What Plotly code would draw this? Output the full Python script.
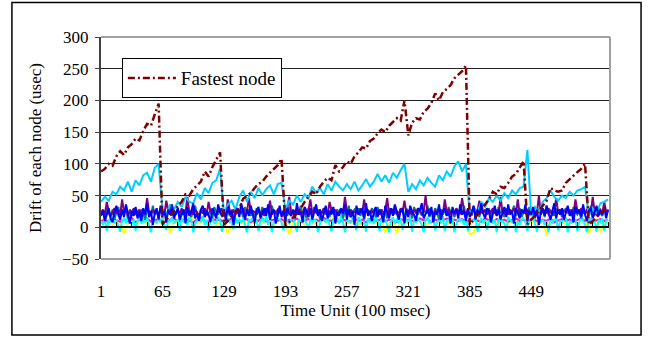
import plotly.graph_objects as go

# Trend series sampled every 4 time units, noise band every 2 time units
time_coarse = list(range(1, 530, 4))
time_fine = list(range(1, 531, 2))

tick_vals = [1, 65, 129, 193, 257, 321, 385, 449]
tick_text = ["1", "65", "129", "193", "257", "321", "385", "449"]

fastest_node = [
    88, 92, 100, 97, 112, 120, 114, 126, 131, 140, 137, 152, 163, 160, 178, 195,
    5, 12, 18, 26, 32, 40, 52, 50, 60, 66, 72, 88, 80, 95, 106, 118,
    4, 10, 18, 24, 30, 45, 50, 54, 62, 68, 72, 80, 86, 92, 98, 108,
    3, 8, 15, 22, 30, 40, 48, 56, 52, 64, 72, 78, 74, 98, 88, 95,
    104, 100, 112, 118, 126, 124, 136, 140, 148, 154, 150, 160, 166, 172, 168, 200,
    145, 165, 172, 170, 182, 187, 196, 211, 200, 213, 218, 224, 235, 240, 246, 255,
    4, 12, 20, 28, 35, 44, 56, 52, 64, 62, 70, 80, 84, 95, 104,
    5, 12, 18, 26, 34, 42, 62, 58, 56, 58, 70, 76, 82, 87, 92, 100,
    4, 10, 16, 22, 28, 32,
]

sky_node = [
    40, 48, 42, 56, 52, 64, 58, 72, 56, 74, 66, 82, 86, 72, 94, 100,
    28, 20, 36, 28, 40, 32, 48, 40, 38, 54, 44, 62, 54, 70, 74, 92,
    22, 36, 42, 28, 48, 58, 40, 56, 46, 62, 50, 60, 66, 52, 68, 70,
    28, 42, 36, 50, 40, 52, 46, 64, 54, 62, 52, 68, 58, 72, 64, 58,
    68, 60, 72, 58, 66, 76, 64, 72, 84, 72, 82, 70, 86, 78, 90, 100,
    56, 68, 60, 74, 66, 78, 70, 64, 82, 74, 88, 80, 96, 104, 88, 100,
    18, 32, 24, 40, 32, 46, 40, 50, 42, 54, 46, 58, 52, 62, 64,
    122, 18, 32, 24, 40, 46, 58, 48, 42, 50, 46, 56, 50, 58, 60, 64,
    18, 30, 22, 38, 40, 44,
]

yellow_node = [
    8, 6, 10, 4, 12, 8, -10, 6, 12, 4, 10, 14, 6, 8, 12, 10,
    4, 12, -9, 8, 6, 12, 8, 10, 14, 6, 8, 12, 6, 14, 4, 8,
    10, -10, 4, 8, 12, 6, 10, 8, 6, 12, 8, 10, 6, 4, 12, 10,
    8, -11, 12, 6, 10, 4, 14, 8, 6, 12, 10, 8, 14, 6, 10, 12,
    6, 8, 10, 4, 12, 8, 12, 6, 8, 14, -8, 6, 10, -10, 12, 8,
    12, 6, 10, 14, 8, 4, 12, 6, 10, 8, 12, 4, 10, 14, 8, 6,
    -11, -9, 14, 8, 6, 12, 10, 8, 4, 12, 6, 10, 8, 14, 12, 6,
    8, 10, 4, 12, -12, 8, 6, 10, 12, 4, 8, 14, 6, 10, 12, -10,
    8, 12, -8, 10, 6,
]

magenta_node = [
    10, 12, 8, 14, 11, 9, 13, 10, 15, 8, 12, 10, 14, 9, 11, 13,
    10, 8, 12, 14, 9, 11, 13, 10, 8, 12, 15, 10, 9, 13, 11, 12,
    8, 10, 14, 12, 9, 11, 13, 8, 12, 10, 14, 9, 11, 12, 10, 13,
    9, 12, 10, 14, 8, 11, 13, 10, 12, 9, 15, 11, 10, 13, 8, 12,
    11, 9, 14, 10, 12, 8, 13, 11, 10, 14, 9, 12, 10, 8, 13, 11,
    12, 10, 9, 14, 11, 13, 8, 12, 10, 11, 14, 9, 12, 10, 13, 8,
    11, 12, 10, 9, 14, 11, 8, 13, 10, 12, 9, 11, 14, 10, 12, 8,
    13, 11, 9, 12, 10, 14, 8, 11, 13, 10, 12, 9, 11, 14, 10, 12,
    9, 11, 13, 10, 12,
]

blue_node = [
    18, 26, 10, 22, 30, 14, 8, 24, 34, 20, 12, 28, 16, 36, 22, 6, 26, 18, 32, 14,
    24, 10, 30, 20, 38, 16, 26, 4, 22, 30, 12, 34, 18, 26, 8, 28, 20, 36, 14, 24,
    30, 12, 20, 28, 6, 32, 18, 24, 38, 14, 22, 10, 28, 34, 16, 26, 20, 8, 30, 22,
    14, 36, 24, 18, 28, 10, 32, 20, 26, 4, 24, 30, 16, 38, 22, 12, 28, 18, 34, 20,
    8, 26, 32, 14, 22, 30, 18, 36, 12, 24, 28, 6, 20, 34, 16, 26, 10, 30, 22, 18,
    28, 14, 38, 20, 24, 8, 32, 26, 16, 30, 12, 22, 36, 18, 28, 10, 24, 34, 14, 26,
    20, 32, 6, 24, 18, 30, 22, 36, 12, 28, 16, 26, 4, 34, 20, 24, 30, 14, 38, 18,
    26, 10, 22, 32, 16, 28, 20, 8, 34, 24, 14, 30, 18, 36, 22, 12, 26, 30, 6, 28,
    16, 34, 24, 20, 10, 30, 26, 38, 14, 22, 28, 18, 32, 8, 24, 20, 36, 12, 26, 30,
    18, 24, 6, 32, 22, 28, 14, 36, 20, 26, 10, 30, 16, 24, 34, 12, 28, 20, 38, 22,
    14, 30, 26, 8, 24, 34, 18, 28, 12, 22, 32, 16, 36, 20, 26, 6, 30, 24, 14, 28,
    22, 36, 10, 26, 20, 32, 16, 28, 4, 24, 30, 18, 34, 22, 12, 26, 38, 14, 28, 20,
    30, 12, 24, 34, 18, 26, 8, 32, 22, 28, 16, 36, 20, 10, 26, 30, 14, 24, 34, 18,
    26, 20, 32, 14, 28,
]

purple_node = [
    22, 28, 20, 40, 26, 18, 24, 30, 22, 26, 20, 44, 24, 28, 18, 26, 22, 30, 20, 24,
    28, 20, 26, 22, 46, 24, 20, 28, 22, 26, 18, 30, 24, 20, 42, 26, 22, 28, 20, 24,
    26, 22, 30, 20, 24, 48, 22, 26, 20, 28, 24, 18, 26, 22, 30, 20, 40, 24, 28, 22,
    20, 26, 24, 30, 22, 18, 44, 26, 22, 28, 20, 24, 26, 22, 30, 18, 24, 46, 22, 26,
    24, 20, 28, 22, 26, 18, 30, 24, 42, 20, 26, 22, 28, 24, 20, 26, 22, 30, 48, 24,
    22, 26, 20, 28, 24, 22, 30, 20, 26, 44, 22, 28, 24, 20, 26, 22, 30, 24, 20, 40,
    26, 22, 28, 20, 24, 30, 22, 48, 26, 20, 28, 22, 24, 26, 20, 30, 22, 44, 24, 28,
    20, 26, 22, 30, 24, 20, 28, 22, 26, 46, 20, 24, 28, 22, 26, 20, 30, 24, 42, 22,
    26, 24, 20, 28, 22, 30, 24, 20, 26, 50, 22, 28, 24, 20, 26, 22, 30, 24, 20, 44,
    24, 28, 22, 26, 20, 30, 24, 22, 46, 26, 20, 28, 24, 22, 30, 20, 26, 42, 24, 22,
    28, 20, 26, 24, 30, 22, 26, 20, 48, 24, 22, 28, 20, 26, 24, 30, 22, 44, 20, 26,
    24, 22, 28, 20, 26, 30, 22, 24, 50, 20, 28, 26, 22, 30, 24, 20, 26, 46, 22, 28,
    20, 26, 24, 30, 22, 28, 20, 44, 26, 22, 30, 24, 20, 28, 26, 22, 48, 24, 20, 26,
    28, 22, 40, 24, 26,
]

teal_node = [
    20, 26, 14, 30, 22, 16, 28, 12, 24, 32, 18, 26, 20, 34, 14, 28, 22, 18, 30, 24,
    16, 28, 22, 12, 30, 24, 18, 34, 20, 26, 14, 30, 22, 28, 16, 24, 32, 18, 26, 20,
    30, 14, 24, 28, 18, 32, 22, 16, 26, 34, 20, 12, 28, 24, 30, 18, 22, 26, 14, 32,
    24, 20, 30, 16, 26, 22, 34, 18, 28, 12, 24, 30, 20, 26, 16, 32, 22, 28, 18, 24,
    14, 30, 26, 20, 32, 18, 24, 28, 12, 34, 22, 26, 16, 30, 20, 24, 28, 18, 32, 22,
    26, 16, 28, 22, 34, 20, 24, 14, 30, 26, 18, 32, 22, 28, 12, 24, 30, 20, 26, 16,
    32, 24, 18, 28, 22, 30, 14, 26, 20, 34, 16, 24, 28, 22, 30, 18, 26, 12, 28, 24,
    20, 30, 26, 16, 32, 22, 28, 18, 24, 14, 30, 26, 20, 34, 22, 16, 28, 24, 18, 30,
    22, 26, 14, 32, 24, 20, 30, 18, 28, 22, 34, 16, 26, 20, 30, 24, 12, 28, 22, 26,
    18, 32, 24, 28, 16, 26, 22, 30, 20, 34, 14, 24, 28, 18, 32, 22, 26, 16, 30, 24,
    26, 20, 30, 14, 28, 24, 18, 32, 22, 26, 16, 30, 20, 28, 24, 34, 18, 22, 30, 16,
    24, 28, 20, 32, 18, 26, 14, 30, 24, 22, 28, 16, 34, 20, 26, 24, 18, 30, 22, 28,
    16, 26, 30, 22, 28, 18, 32, 24, 20, 26, 14, 30, 22, 28, 18, 34, 24, 20, 26, 30,
    22, 18, 28, 24, 26,
]

cyan_node = [
    10, 4, 14, -6, 12, 8, 16, 6, 12, 2, -7, 10, 14, 6, 18, 8, 4, 12, -5, 10,
    14, 6, 12, 8, 16, 4, -8, 12, 10, 6, 14, 8, 18, 2, -4, 12, 8, 16, 6, 10,
    12, -6, 14, 8, 10, 4, 16, 12, -8, 6, 10, 14, 8, 18, 4, 12, -5, 10, 14, 6,
    8, 16, 10, -7, 12, 6, 14, 8, 10, -3, 16, 6, 12, 8, 14, 4, -8, 12, 10, 16,
    6, 12, -6, 10, 14, 8, 18, 4, 12, -8, 10, 6, 14, 12, 8, -5, 16, 10, 6, 12,
    14, 4, -7, 12, 8, 16, 10, 6, -4, 14, 8, 12, 10, -8, 6, 16, 12, 8, 14, 4,
    -6, 12, 10, 14, 6, 18, 8, -8, 12, 10, 6, 14, 8, -5, 16, 12, 4, 10, -7, 14,
    8, 12, 6, 16, 10, -6, 14, 8, 12, 4, -8, 10, 16, 6, 12, 8, 14, -4, 10, 12,
    6, 16, -7, 12, 8, 14, 10, 4, -8, 12, 16, 6, 10, 14, -5, 8, 12, 6, 18, -6,
    10, 12, 8, 14, -8, 6, 16, 10, 12, 4, 14, -6, 8, 12, 10, 16, -7, 6, 14, 8,
    12, -4, 10, 16, 6, 12, -8, 14, 8, 10, 6, -6, 16, 12, 8, 14, -8, 10, 4, 12,
    14, 8, -6, 12, 10, 16, 6, -7, 14, 8, 12, 4, 10, -8, 16, 6, 12, 14, -5, 10,
    8, 12, 16, -8, 10, 6, 14, 12, -6, 8, 16, 10, 4, -8, 12, 14, 6, 10, -7, 12,
    8, 14, -6, 10, 12,
]

FONT = "Liberation Serif"

fig = go.Figure()

background_series = [
    (yellow_node, time_coarse, "#FFFF00"),
    (magenta_node, time_coarse, "#FF00FF"),
    (cyan_node, time_fine, "#00FFFF"),
    (teal_node, time_fine, "#008080"),
    (purple_node, time_fine, "#800080"),
    (sky_node, time_coarse, "#00CCFF"),
    (blue_node, time_fine, "#0000FF"),
]
for vals, xs, col in background_series:
    fig.add_trace(go.Scatter(
        x=xs[:len(vals)], y=vals, mode="lines",
        line=dict(color=col, width=2),
        showlegend=False, hoverinfo="skip",
    ))

fig.add_trace(go.Scatter(
    x=time_coarse[:len(fastest_node)], y=fastest_node, mode="lines", name="Fastest node",
    line=dict(color="#800000", width=2.5, dash="7px,3px,2px,3px"),
    xaxis="x2", showlegend=True,
))

x_range = [1, 531]

fig.update_layout(
    width=654, height=339,
    margin=dict(l=101, r=44, t=37, b=80),
    paper_bgcolor="white", plot_bgcolor="white",
    font=dict(family=FONT, size=17, color="black"),
    xaxis=dict(
        range=x_range, tickmode="array", tickvals=tick_vals, ticktext=tick_text,
        showgrid=False, zeroline=False, showline=False, ticks="",
        ticklabelstandoff=20,
        title=dict(text="Time Unit (100 msec)", standoff=4, font=dict(size=17)),
        tickfont=dict(size=17),
    ),
    xaxis2=dict(
        range=x_range, overlaying="x", anchor="free", position=50 / 350,
        side="bottom", showline=True, linecolor="black", linewidth=1.5,
        ticks="inside", ticklen=5, tickcolor="black", tickwidth=1,
        tick0=1, dtick=16, showticklabels=False, showgrid=False, zeroline=False,
    ),
    yaxis=dict(
        range=[-50, 300], tick0=0, dtick=50,
        showgrid=True, gridcolor="#202020", gridwidth=1,
        zeroline=False, showline=True, linecolor="#404040", linewidth=2,
        ticks="outside", ticklen=4, tickcolor="#404040",
        ticklabelstandoff=3,
        tickfont=dict(size=17),
        title=dict(text="Drift of each node (usec)", standoff=16, font=dict(size=17)),
    ),
    legend=dict(
        x=0.041, y=0.905, xanchor="left", yanchor="top",
        bgcolor="white", bordercolor="black", borderwidth=1,
        font=dict(family=FONT, size=19), itemwidth=48,
    ),
    shapes=[
        dict(type="line", xref="paper", yref="paper", x0=0, x1=1, y0=1, y1=1,
             line=dict(color="#A0A0A0", width=2)),
        dict(type="line", xref="paper", yref="paper", x0=1, x1=1, y0=0, y1=1,
             line=dict(color="#A0A0A0", width=2)),
        dict(type="line", xref="paper", yref="paper", x0=0, x1=1, y0=0, y1=0,
             line=dict(color="#A0A0A0", width=2)),
        dict(type="rect", xref="paper", yref="paper",
             x0=-0.175, x1=1.061, y0=-0.342, y1=1.155,
             line=dict(color="black", width=1.5)),
    ],
)

fig.write_html(
    "out.html",
    config={"displayModeBar": False},
    post_script="document.body.style.margin='0px';document.body.style.overflow='hidden';",
)
